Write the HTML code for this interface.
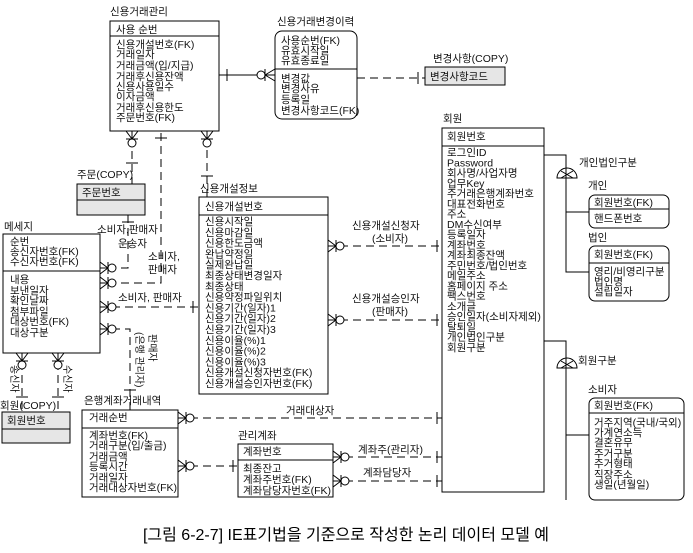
<!DOCTYPE html>
<html><head><meta charset="utf-8"><style>
body{margin:0;background:#fff}
svg{display:block}
text{font-family:"Liberation Sans","Noto Sans CJK KR",sans-serif;font-size:10.5px;fill:#111}
</style></head><body>
<svg id="s" width="693" height="553" viewBox="0 0 693 553" xmlns="http://www.w3.org/2000/svg">
<g fill="none" stroke="#000" stroke-width="1">
<rect x="110" y="21" width="109" height="110"/><line x1="110" y1="36" x2="219" y2="36"/>
<rect x="275" y="31" width="82" height="88" rx="7"/><line x1="275" y1="69" x2="357" y2="69"/>
<rect x="425" y="67" width="80" height="18" fill="#e6e6e6"/>
<rect x="442" y="128" width="102" height="364"/><line x1="442" y1="146" x2="544" y2="146"/>
<rect x="589" y="195" width="80" height="33" rx="6"/><line x1="589" y1="209" x2="669" y2="209"/>
<rect x="589" y="246" width="80" height="55" rx="6"/><line x1="589" y1="263" x2="669" y2="263"/>
<rect x="589" y="398" width="95" height="102" rx="6"/><line x1="589" y1="413" x2="684" y2="413"/>
<rect x="199" y="197" width="129" height="197"/><line x1="199" y1="215" x2="328" y2="215"/>
<rect x="77" y="184" width="68" height="31" fill="#e6e6e6"/><line x1="77" y1="200" x2="145" y2="200"/>
<rect x="3" y="234" width="97" height="119"/><line x1="3" y1="271" x2="100" y2="271"/>
<rect x="2" y="412" width="68" height="31" fill="#e6e6e6"/><line x1="2" y1="429" x2="70" y2="429"/>
<rect x="82" y="410" width="96" height="87"/><line x1="82" y1="428" x2="178" y2="428"/>
<rect x="238" y="444" width="95" height="53"/><line x1="238" y1="460" x2="333" y2="460"/>
<line x1="219" y1="75" x2="275" y2="75"/>
<polyline points="544,155 566,155 566,272 589,272"/><line x1="566" y1="212" x2="589" y2="212"/>
<polyline points="544,341 566,341 566,500"/><line x1="566" y1="435" x2="589" y2="435"/>
<path d="M557,178 A10,10 0 0 1 577,178 Z"/><line x1="561" y1="171" x2="573" y2="178"/><line x1="573" y1="171" x2="561" y2="178"/>
<path d="M557,368 A10,10 0 0 1 577,368 Z"/><line x1="561" y1="361" x2="573" y2="368"/><line x1="573" y1="361" x2="561" y2="368"/>
</g>
<g fill="none" stroke="#000" stroke-dasharray="8,5">
<line x1="357" y1="78" x2="425" y2="78"/>
<line x1="132" y1="138" x2="132" y2="184"/>
<polyline points="161,133 161,283 112,283"/>
<line x1="207" y1="150" x2="207" y2="197"/>
<polyline points="128,215 128,268 112,268"/>
<line x1="112" y1="307" x2="199" y2="307"/>
<polyline points="112,329 130,329 130,410"/>
<line x1="340" y1="246" x2="442" y2="246"/>
<line x1="340" y1="320" x2="442" y2="320"/>
<line x1="22" y1="362" x2="22" y2="412"/><line x1="58" y1="362" x2="58" y2="412"/>
<line x1="190" y1="418" x2="442" y2="418"/>
<line x1="190" y1="466" x2="238" y2="466"/>
<line x1="345" y1="457" x2="442" y2="457"/>
<line x1="345" y1="481" x2="442" y2="481"/>
</g>
<g id="sym" fill="#fff" stroke="#000"></g>
<text x="110" y="15">신용거래관리</text>
<text x="116" y="33">사용 순번</text>
<g><text x="116" y="48">신용개설번호(FK)</text><text x="116" y="58">거래일자</text><text x="116" y="69">거래금액(입/지급)</text><text x="116" y="80">거래후신용잔액</text><text x="116" y="90">신용사용일수</text><text x="116" y="100">이자금액</text><text x="116" y="111">거래후신용한도</text><text x="116" y="121">주문번호(FK)</text></g>
<text x="277" y="25">신용거래변경이력</text>
<text x="281" y="44">사용순번(FK)</text><text x="281" y="54">유효시작일</text><text x="281" y="64">유효종료일</text>
<text x="281" y="82">변경값</text><text x="281" y="92">변경사유</text><text x="281" y="103">등록일</text><text x="281" y="114">변경사항코드(FK)</text>
<text x="433" y="62">변경사항(COPY)</text><text x="430" y="80">변경사항코드</text>
<text x="443" y="122">회원</text><text x="447" y="140">회원번호</text>
<g id="hw"></g>
<text x="579" y="166">개인법인구분</text>
<text x="588" y="189">개인</text><text x="594" y="206">회원번호(FK)</text><text x="594" y="222">핸드폰번호</text>
<text x="588" y="241">법인</text><text x="594" y="258">회원번호(FK)</text><text x="594" y="275">영리/비영리구분</text><text x="594" y="285">법인명</text><text x="594" y="295">설립일자</text>
<text x="578" y="364">회원구분</text>
<text x="588" y="393">소비자</text><text x="594" y="409">회원번호(FK)</text>
<text x="594" y="426">거주지역(국내/국외)</text><text x="594" y="436">가계연소득</text><text x="594" y="446">결혼유무</text><text x="594" y="457">주거구분</text><text x="594" y="467">주거형태</text><text x="594" y="478">직장주소</text><text x="594" y="488">생일(년월일)</text>
<text x="200" y="192">신용개설정보</text><text x="205" y="210">신용개설번호</text>
<g id="sg"></g>
<text x="352" y="229">신용개설신청자</text><text x="372" y="242">(소비자)</text>
<text x="352" y="302">신용개설승인자</text><text x="372" y="315">(판매자)</text>
<text x="77" y="178">주문(COPY)</text><text x="82" y="196">주문번호</text>
<text x="4" y="230">메세지</text>
<text x="10" y="245">순번</text><text x="10" y="255">송신자번호(FK)</text><text x="10" y="265">수신자번호(FK)</text>
<text x="10" y="283">내용</text><text x="10" y="294">보낸일자</text><text x="10" y="304">확인날짜</text><text x="10" y="315">첨부파일</text><text x="10" y="325">대상번호(FK)</text><text x="10" y="336">대상구분</text>
<text x="97" y="233">소비자,판매자</text><text x="118" y="247">운송자</text>
<text x="148" y="260">소비자,</text><text x="148" y="273">판매자</text>
<text x="118" y="301">소비자, 판매자</text>
<text transform="translate(136,332) rotate(90)" style="font-size:10px">(은행 관리자)</text>
<text transform="translate(149,334) rotate(90)" style="font-size:10px">판매자</text>
<text transform="translate(11,365) rotate(90)" style="font-size:10px">송신자</text>
<text transform="translate(64,365) rotate(90)" style="font-size:10px">수신자</text>
<text x="0" y="409">회원(COPY)</text><text x="7" y="424">회원번호</text>
<text x="84" y="404">은행계좌거래내역</text><text x="89" y="421">거래순번</text>
<text x="89" y="439">계좌번호(FK)</text><text x="89" y="449">거래구분(입/출금)</text><text x="89" y="460">거래금액</text><text x="89" y="470">등록시간</text><text x="89" y="481">거래일자</text><text x="89" y="491">거래대상자번호(FK)</text>
<text x="286" y="414">거래대상자</text>
<text x="238" y="439">관리계좌</text><text x="243" y="455">계좌번호</text>
<text x="243" y="472">최종잔고</text><text x="243" y="483">계좌주번호(FK)</text><text x="243" y="494">계좌담당자번호(FK)</text>
<text x="358" y="453">계좌주(관리자)</text><text x="363" y="476">계좌담당자</text>
<text x="346" y="540" text-anchor="middle" style="font-size:16px;fill:#000">[그림 6-2-7] IE표기법을 기준으로 작성한 논리 데이터 모델 예</text>
</svg>
<script>
var NS="http://www.w3.org/2000/svg";
function add(p,tag,a,txt){var e=document.createElementNS(NS,tag);for(var k in a)e.setAttribute(k,a[k]);if(txt)e.textContent=txt;document.getElementById(p).appendChild(e);}
var hw=["로그인ID","Password","회사명/사업자명","업무Key","주거래은행계좌번호","대표전화번호","주소","DM수신여부","등록일자","계좌번호","계좌최종잔액","주민번호/법인번호","메일주소","홈페이지 주소","팩스번호","소개글","승인일자(소비자제외)","탈퇴일","개인법인구분","회원구분"];
hw.forEach(function(t,i){add("hw","text",{x:447,y:156+i*10.25},t)});
var sg=["신용시작일","신용마감일","신용한도금액","완납약정일","실제완납일","최종상태변경일자","최종상태","신용약정파일위치","신용기간(일자)1","신용기간(일자)2","신용기간(일자)3","신용이율(%)1","신용이율(%)2","신용이율(%)3","신용개설신청자번호(FK)","신용개설승인자번호(FK)"];
sg.forEach(function(t,i){add("sg","text",{x:205,y:225+i*10.8},t)});
function L(a,b,c,d){add("sym","line",{x1:a,y1:b,x2:c,y2:d})}
function C(x,y){add("sym","circle",{cx:x,cy:y,r:4})}
function crowR(x,y){L(x,y-6,x+8,y);L(x,y+6,x+8,y);L(x,y,x+8,y);L(x+8,y-6,x+8,y+6);C(x+12,y)}
function crowD(x,y){L(x-6,y,x,y+8);L(x+6,y,x,y+8);L(x,y,x,y+8);L(x-6,y+8,x+6,y+8);C(x,y+12)}
function barV(x,y){L(x,y-6,x,y+6)}
function barH(x,y){L(x-6,y,x+6,y)}
crowD(132,131);barH(132,163);
barH(161,138);
crowD(207,131);barH(207,176);
barV(227,75);
L(275,69,265,75);L(275,81,265,75);L(265,69,265,81);C(261,75);
barV(418,78);
crowR(328,246);barV(437,246);
crowR(328,320);barV(437,320);
crowR(100,268);barH(128,222);
crowR(100,283);
crowR(100,307);barV(193,307);
crowR(100,329);barH(130,390);
crowD(22,353);barH(22,397);crowD(58,353);barH(58,397);
crowR(178,418);barV(437,418);
crowR(178,466);barV(233,466);
crowR(333,457);barV(437,457);
crowR(333,481);barV(437,481);
</script>
</body></html>
